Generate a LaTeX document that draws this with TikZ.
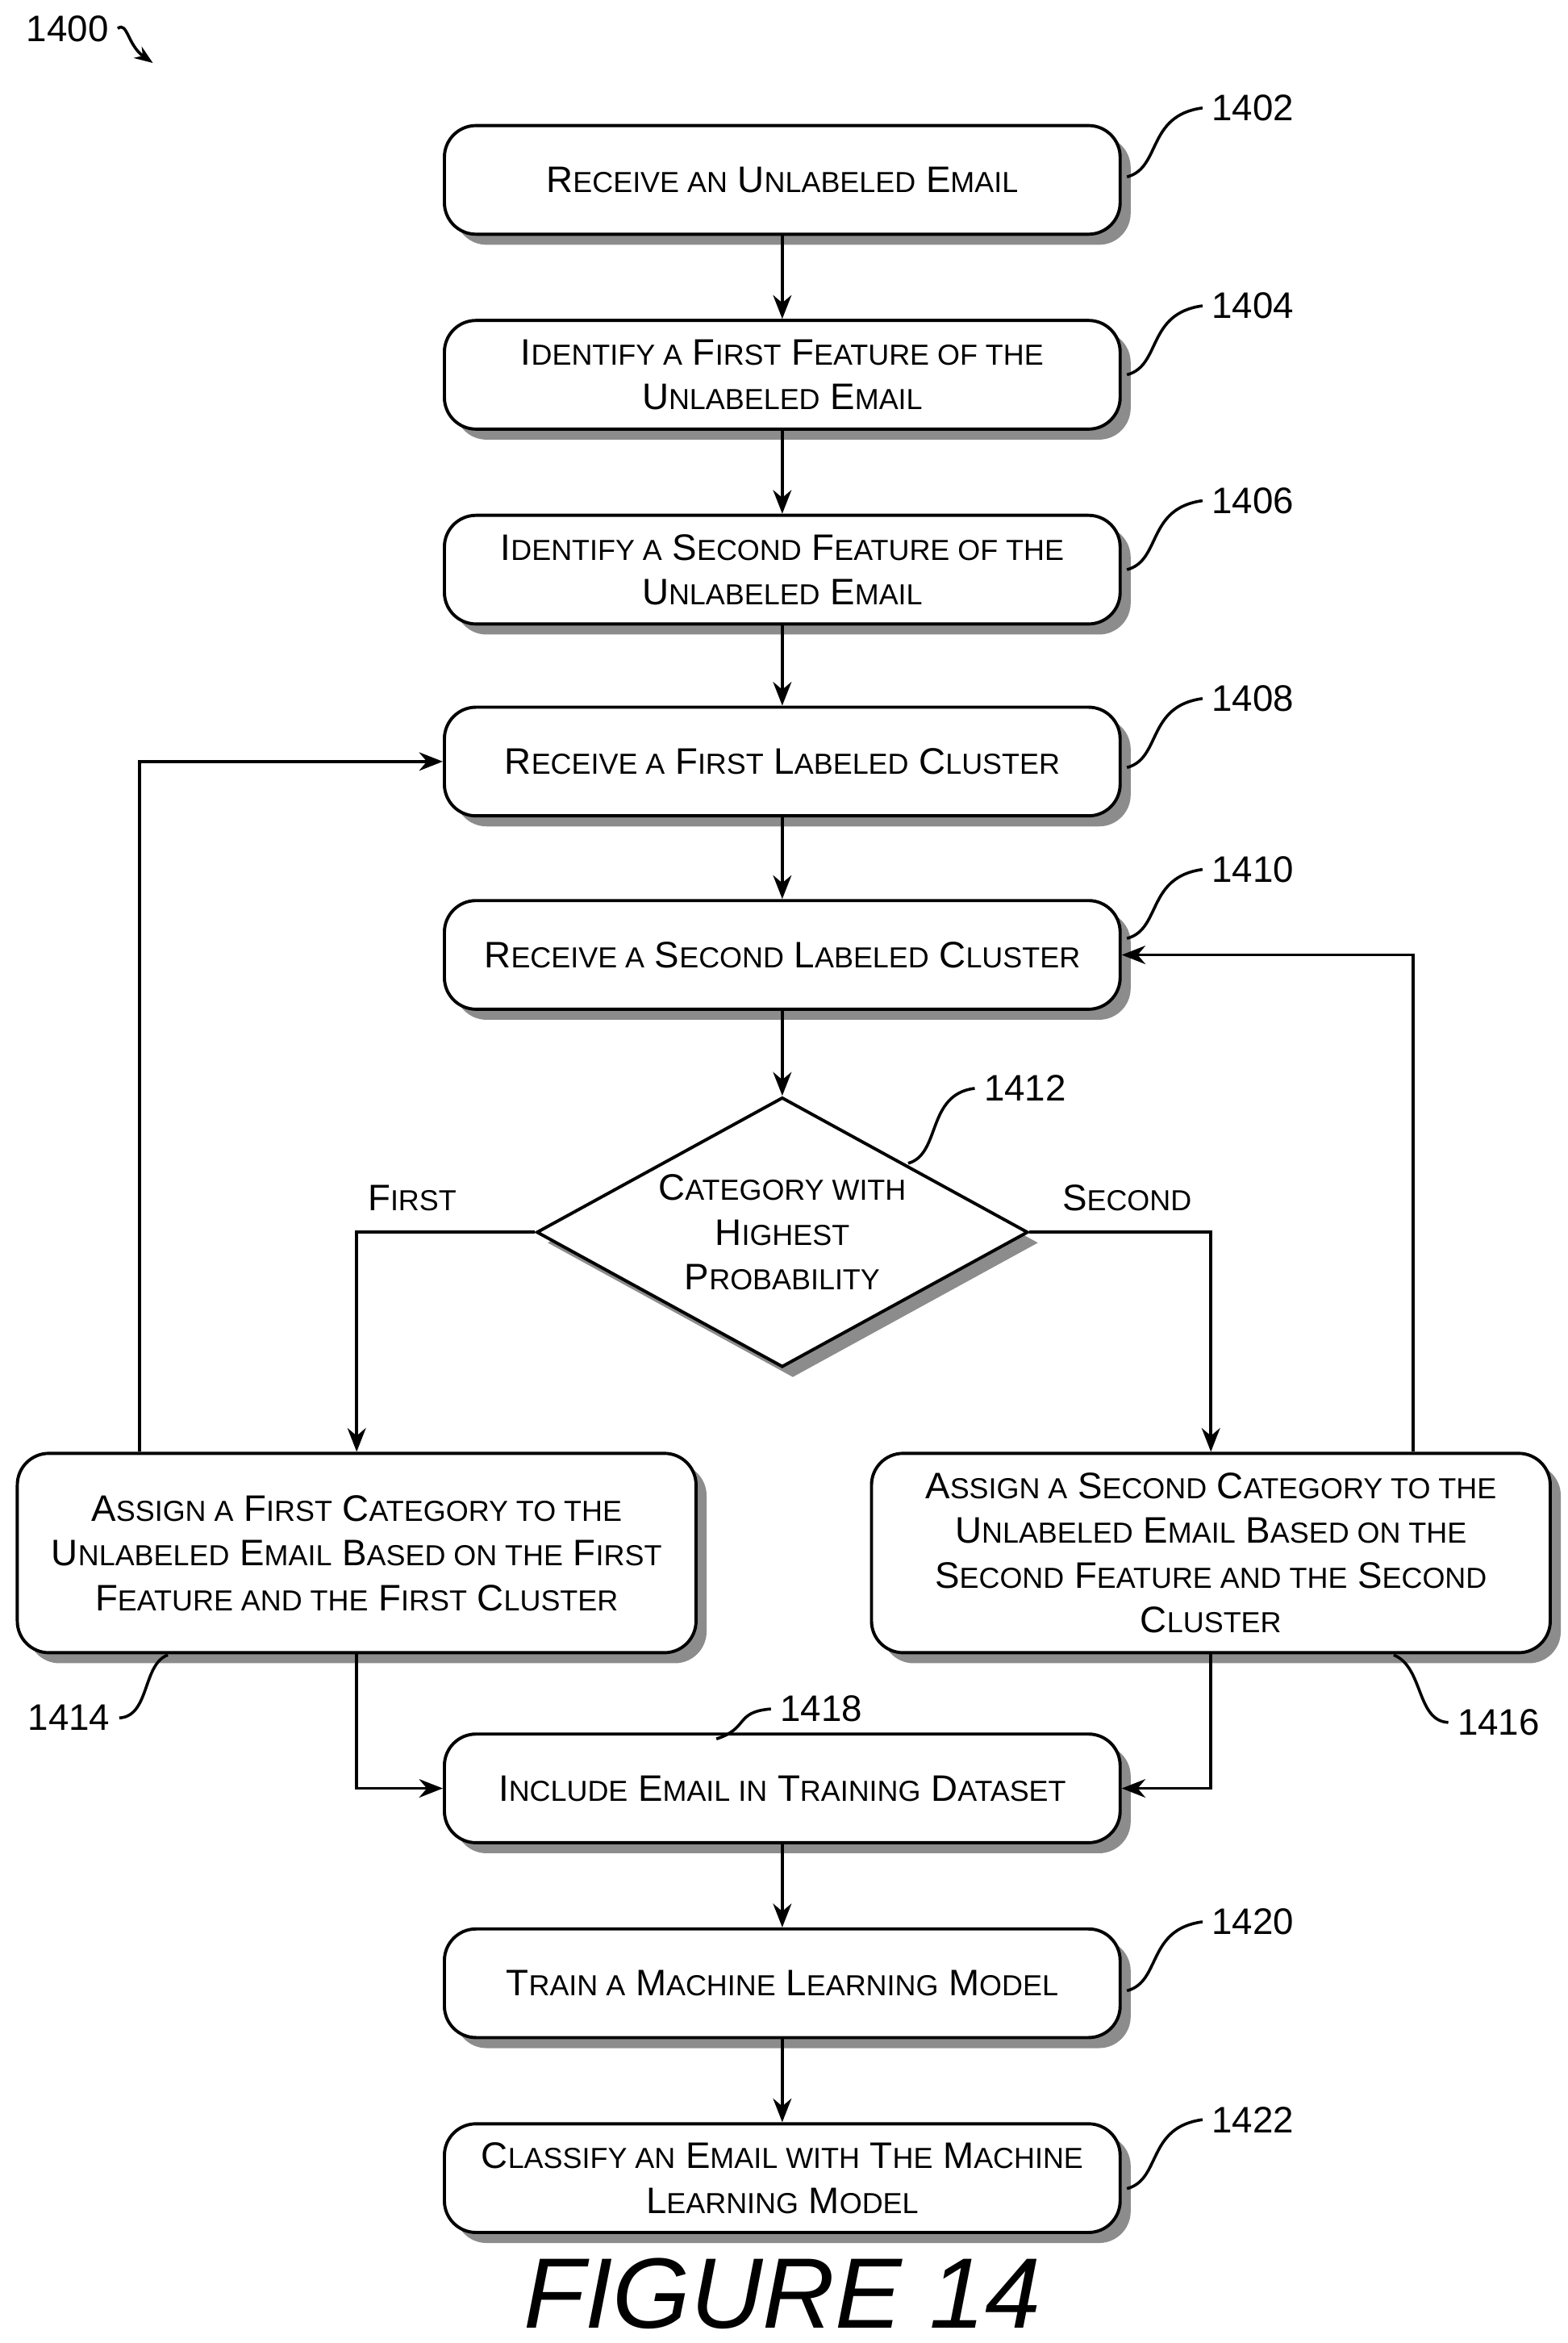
\documentclass[tikz,border=0pt]{standalone}
\usepackage{fontspec}
\setmainfont{Liberation Sans}
\usetikzlibrary{shapes.geometric,shadows,arrows.meta}
\newcommand{\s}[1]{{\fontsize{11}{14}\selectfont\MakeUppercase{#1}}}
\tikzset{
  box/.style={draw, line width=1.2pt, rounded corners=12pt, fill=white,
    minimum width=9.02cm, minimum height=1.45cm, align=center, inner sep=2pt,
    font=\fontsize{14}{17}\selectfont,
    drop shadow={shadow xshift=4pt, shadow yshift=-4pt, fill=black!45, opacity=1}},
  wide/.style={box, minimum width=9.06cm, minimum height=2.66cm},
  decide/.style={draw, line width=1.2pt, diamond, aspect=1.82, fill=white,
    minimum width=6.56cm, minimum height=3.6cm, inner sep=-12pt, align=center,
    font=\fontsize{14}{17}\selectfont,
    drop shadow={shadow xshift=4pt, shadow yshift=-4pt, fill=black!45, opacity=1}},
  flow/.style={-{Stealth[length=9pt,width=7pt]}, line width=1.1pt},
  ref/.style={line width=1.1pt},
  num/.style={font=\fontsize{14}{16}\selectfont}
}
\begin{document}
\begin{tikzpicture}[x=0.02cm,y=-0.02cm]
  \useasboundingbox (0,0) rectangle (1046,1563);

  % steps
  \node[box] (s1402) at (522,120) {R\s{eceive an} U\s{nlabeled} E\s{mail}};
  \node[box] (s1404) at (522,250) {I\s{dentify a} F\s{irst} F\s{eature of the}\\ U\s{nlabeled} E\s{mail}};
  \node[box] (s1406) at (522,380) {I\s{dentify a} S\s{econd} F\s{eature of the}\\ U\s{nlabeled} E\s{mail}};
  \node[box] (s1408) at (522,508) {R\s{eceive a} F\s{irst} L\s{abeled} C\s{luster}};
  \node[box] (s1410) at (522,637) {R\s{eceive a} S\s{econd} L\s{abeled} C\s{luster}};
  \node[decide] (d1412) at (522,822) {C\s{ategory with}\\ H\s{ighest}\\ P\s{robability}};
  \node[wide] (s1414) at (238,1036) {A\s{ssign a} F\s{irst} C\s{ategory to the}\\ U\s{nlabeled} E\s{mail} B\s{ased on the} F\s{irst}\\ F\s{eature and the} F\s{irst} C\s{luster}};
  \node[wide] (s1416) at (808,1036) {A\s{ssign a} S\s{econd} C\s{ategory to the}\\ U\s{nlabeled} E\s{mail} B\s{ased on the}\\ S\s{econd} F\s{eature and the} S\s{econd}\\ C\s{luster}};
  \node[box] (s1418) at (522,1193) {I\s{nclude} E\s{mail in} T\s{raining} D\s{ataset}};
  \node[box] (s1420) at (522,1323) {T\s{rain a} M\s{achine} L\s{earning} M\s{odel}};
  \node[box] (s1422) at (522,1453) {C\s{lassify an} E\s{mail with} T\s{he} M\s{achine}\\ L\s{earning} M\s{odel}};

  \node[font=\itshape\fontsize{38}{40}\selectfont] (fig) at (522,1530) {FIGURE 14};

  % flow
  \draw[flow] (s1402) -- (s1404);
  \draw[flow] (s1404) -- (s1406);
  \draw[flow] (s1406) -- (s1408);
  \draw[flow] (s1408) -- (s1410);
  \draw[flow] (s1410) -- (d1412);
  \draw[flow] (d1412.west) -| (s1414.north);
  \draw[flow] (d1412.east) -| (s1416.north);
  \draw[flow] ([xshift=-2.9cm]s1414.north) |- (s1408.west);
  \draw[flow] ([xshift=2.7cm]s1416.north) |- (s1410.east);
  \draw[flow] (s1414.south) |- (s1418.west);
  \draw[flow] (s1416.south) |- (s1418.east);
  \draw[flow] (s1418) -- (s1420);
  \draw[flow] (s1420) -- (s1422);

  \node[num] (first) at (275,799) {F\s{irst}};
  \node[num] (second) at (752,799) {S\s{econd}};

  % reference numbers
  \node[num] (n1400) at (45,19) {1400};
  \draw[ref,-{Stealth[length=7pt]}] (n1400.east) .. controls (85,14) and (85,30) .. (102,42);
  \foreach \n/\y in {1402/72,1404/204,1406/334,1408/466,1410/580,1420/1282,1422/1414} {
    \node[num] (n\n) at (836,\y) {\n};
    \draw[ref] (752,\y+46) .. controls (775,\y+40) and (765,\y+5) .. (n\n.west);
  }
  \node[num] (n1412) at (684,726) {1412};
  \draw[ref] (606,776) .. controls (628,770) and (618,730) .. (n1412.west);
  \node[num] (n1418) at (548,1140) {1418};
  \draw[ref] (478,1160) .. controls (500,1153) and (490,1142) .. (n1418.west);
  \node[num] (n1414) at (46,1146) {1414};
  \draw[ref] (n1414.east) .. controls (100,1145) and (95,1110) .. (112,1104);
  \node[num] (n1416) at (1000,1149) {1416};
  \draw[ref] (n1416.west) .. controls (945,1148) and (950,1112) .. (930,1104);
\end{tikzpicture}
\end{document}
